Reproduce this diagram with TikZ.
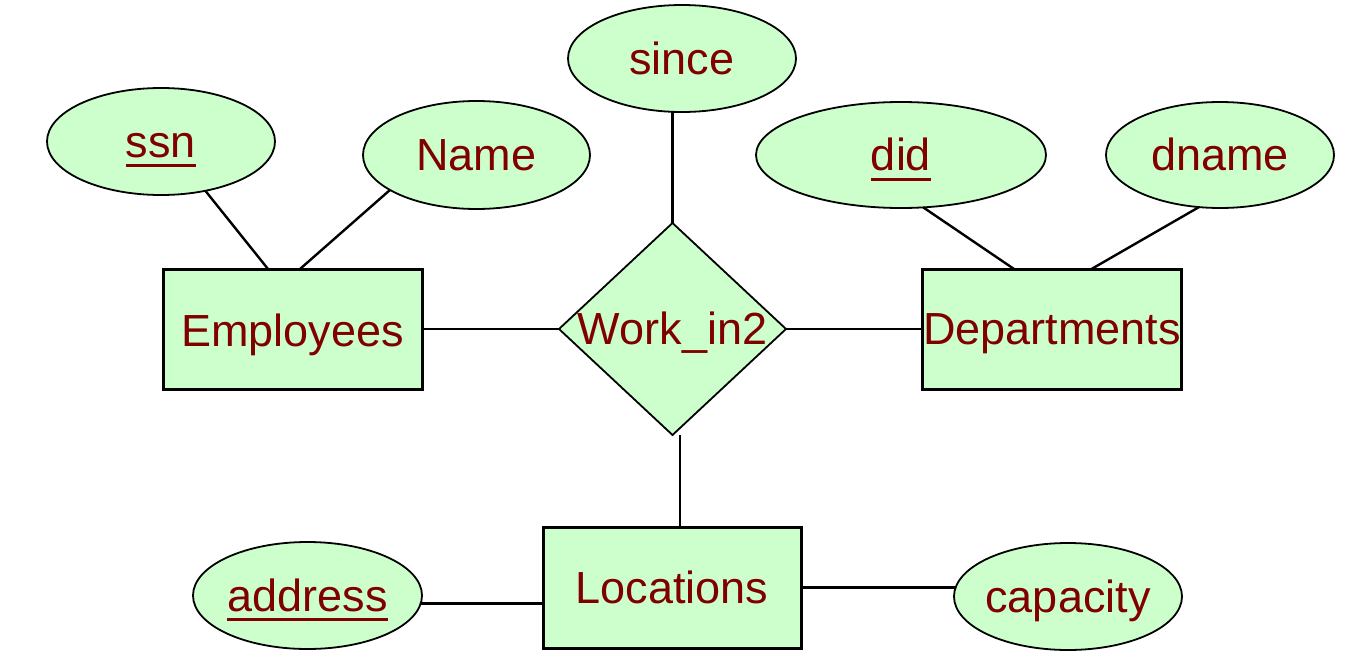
\documentclass[tikz,border=0pt]{standalone}
\usepackage{fontspec}
\setmainfont{Liberation Sans}
\usetikzlibrary{shapes.geometric}
\definecolor{erfill}{HTML}{CCFFCC}
\definecolor{ertext}{HTML}{800000}
\newcommand{\ulattr}[1]{\setbox0\hbox{#1}\rlap{\rule[-10pt]{\wd0}{3pt}}\box0}
\newcommand{\ctext}[1]{\makebox[0pt][c]{#1}}
\begin{document}
\begin{tikzpicture}[x=1pt,y=-1pt,
  base/.style={fill=erfill, draw=black, inner sep=0pt, outer sep=0pt, text=ertext,
    font=\fontsize{45}{54}\selectfont, text height=31pt, text depth=0pt},
  attr/.style={base, ellipse, line width=1.8pt},
  entity/.style={base, rectangle, line width=3pt, minimum width=259pt, minimum height=120pt},
  rel/.style={base, diamond, line width=1.8pt},
  conn/.style={line width=2.4pt, draw=black}]
\useasboundingbox (0,0) rectangle (1353,656);

% entities
\node[entity, text height=34pt] (emp) at (292.5,329) {\ctext{Employees}};
\node[entity] (dept) at (1052,329) {\ctext{Departments}};
\node[entity, minimum height=121pt, minimum width=258pt] (loc) at (672,587.5) {\ctext{Locations}};

% relationship
\node[rel, minimum width=227pt, minimum height=212pt] (work) at (672.5,329) {\ctext{Work\_in2}};

% attributes
\node[attr, minimum width=228pt, minimum height=107pt] (ssn) at (161,141.5) {\ctext{\ulattr{ssn}}};
\node[attr, minimum width=227pt, minimum height=108pt] (name) at (476.5,155) {\ctext{Name}};
\node[attr, minimum width=228pt, minimum height=107pt] (since) at (682,58.5) {\ctext{since}};
\node[attr, minimum width=290pt, minimum height=106pt] (did) at (901,155) {\ctext{\ulattr{did}}};
\node[attr, minimum width=228pt, minimum height=106pt] (dname) at (1220,155) {\ctext{dname}};
\node[attr, minimum width=229pt, minimum height=107pt] (addr) at (307.5,595.5) {\ctext{\ulattr{address}}};
\node[attr, minimum width=228pt, minimum height=107pt] (cap) at (1068,596.5) {\ctext{capacity}};

% connectors
\draw[conn] (ssn.-48) -- ([xshift=-24.5pt]emp.north);
\draw[conn] (name.202) -- ([xshift=7.5pt]emp.north);
\draw[conn] (work.north) -- (work.north |- since.south);
\draw[conn] (did.-67) -- ([xshift=-38pt]dept.north);
\draw[conn] (dname.-112) -- ([xshift=39.5pt]dept.north);
\draw[conn] (emp.east) -- (work.west);
\draw[conn] (work.east) -- (dept.west);
\coordinate (loctop) at ([xshift=8pt]loc.north);
\draw[conn] (loctop) -- (loctop |- work.south);
\draw[conn] (addr.-4) -- (loc.west |- addr.-4);
\draw[conn] (loc.east) -- (loc.east -| cap.176);
\end{tikzpicture}
\end{document}
